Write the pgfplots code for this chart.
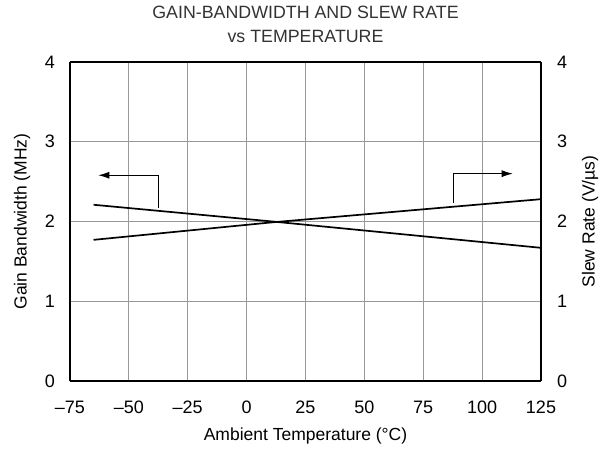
\documentclass[border=0pt]{standalone}
\usepackage{pgfplots}
\pgfplotsset{compat=1.18}
\usetikzlibrary{arrows.meta}
\usepackage{fontspec}
\setmainfont{Liberation Sans}
\begin{document}
\begin{tikzpicture}
\pgfplotsset{
  every axis/.append style={
    scale only axis, width=471pt, height=319pt,
    xmin=-75, xmax=125, ymin=0, ymax=4,
    ytick={0,1,2,3,4},
    major tick length=0pt,
    tick label style={font=\fontsize{18}{20}\selectfont, inner sep=0pt},
    label style={font=\fontsize{17.5}{20}\selectfont},
    /pgf/number format/assume math mode=true,
  }
}
\begin{axis}[
  axis y line*=left, axis x line*=bottom,
  axis line style={line width=1.4pt},
  xtick={-75,-50,-25,0,25,50,75,100,125},
  xticklabels={--75,--50,--25,0,25,50,75,100,125},
  grid=major, grid style={gray!80, line width=0.8pt},
  xlabel={Ambient Temperature (°C)},
  ylabel={Gain Bandwidth (MHz)},
  title={GAIN-BANDWIDTH AND SLEW RATE\\vs TEMPERATURE},
  title style={font=\fontsize{17.8}{24}\selectfont, align=center, text=black!80,
    at={(rel axis cs:0.5,1)}, anchor=center, yshift=32pt},
  xticklabel style={anchor=center, yshift=-26pt},
  yticklabel style={anchor=east, xshift=-15pt},
  xlabel style={at={(rel axis cs:0.5,0)}, anchor=center, yshift=-55pt},
  ylabel style={at={([xshift=-48pt]rel axis cs:0,0.5)}, anchor=center},
]
\addplot[black, line width=1.7pt] coordinates {(-65,2.21) (11,2.0) (125,1.67)};
\draw[black, line width=0.9pt, -{Latex[length=11pt,width=7pt]}] (axis cs:-37.5,2.17) -- (axis cs:-37.5,2.58) -- (axis cs:-63,2.58);
\draw[black, line width=0.9pt, -{Latex[length=11pt,width=7pt]}] (axis cs:87.7,2.23) -- (axis cs:87.7,2.6) -- (axis cs:113,2.6);
\end{axis}
\begin{axis}[
  axis y line*=right, axis x line=none,
  axis line style={line width=1.4pt},
  ylabel={Slew Rate (V/µs)},
  yticklabel style={anchor=west, xshift=16pt},
  ylabel style={at={([xshift=49pt]rel axis cs:1,0.5)}, anchor=center},
]
\addplot[black, line width=1.7pt] coordinates {(-65,1.77) (11,1.99) (125,2.28)};
\end{axis}
\draw[line width=1.4pt] (0,319pt) -- (471pt,319pt);
\path (-70pt,-67pt) rectangle (536pt,381pt);
\end{tikzpicture}
\end{document}
